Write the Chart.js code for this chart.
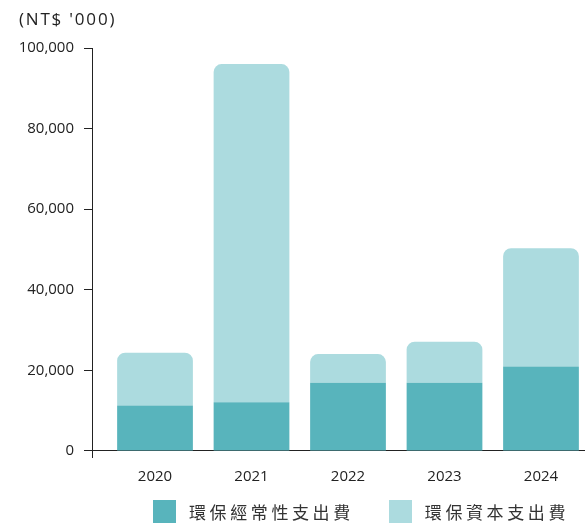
<!DOCTYPE html>
<html>
<head>
<meta charset="utf-8">
<title>環保支出</title>
<script src="https://cdn.jsdelivr.net/npm/chart.js"></script>
<style>
 body { margin: 0; background: #fff; overflow: hidden; }
 #wrap { position: relative; width: 585px; height: 523px; }
 #unit {
    position: absolute; left: 19px; top: 7px;
    font: 17px "Open Sans", sans-serif; letter-spacing: 1.8px;
    line-height: 24px; color: #222;
 }
 #legend {
    position: absolute; left: 153px; top: 500px;
    display: flex; width: 450px; white-space: nowrap;
 }
 .item { display: flex; align-items: center; flex-shrink: 0; }
 .item + .item { margin-left: 35px; }
 .box { width: 23px; height: 23px; margin-right: 13px; flex-shrink: 0; }
 .item span {
    font: 17px "Noto Sans CJK TC", sans-serif; letter-spacing: 3.6px;
    color: #333; line-height: 23px;
 }
</style>
</head>
<body>
<div id="wrap">
  <canvas id="chart" width="585" height="523"></canvas>
  <div id="unit">(NT$ '000)</div>
  <div id="legend"></div>
</div>
<script>
// 年度
const years = ["2020", "2021", "2022", "2023", "2024"];
// 環保經常性支出費 (NT$ '000)
const operating = [11270, 12090, 16900, 16900, 20970];
// 環保資本支出費 (NT$ '000)
const capital = [13110, 83930, 7150, 10210, 29350];
const yTicks = [0, 20000, 40000, 60000, 80000, 100000];

const seriesNames = ["環保經常性支出費", "環保資本支出費"];
const seriesColors = ["#58b4bc", "#acdbdf"];

const datasets = [
    {
        label: seriesNames[0],
        data: operating,
        backgroundColor: seriesColors[0],
        borderRadius: 0
    },
    {
        label: seriesNames[1],
        data: capital,
        backgroundColor: seriesColors[1],
        borderRadius: 8,
        borderSkipped: 'start'
    }
];

const ctx = document.getElementById('chart').getContext('2d');
const chart = new Chart(ctx, {
    type: 'bar',
    data: { labels: years, datasets: datasets },
    options: {
        responsive: false,
        animation: false,
        locale: 'en-US',
        categoryPercentage: 0.785,
        barPercentage: 1,
        layout: { padding: { top: 48, right: 0, bottom: 66, left: 0 } },
        plugins: {
            legend: { display: false },
            tooltip: { enabled: false }
        },
        scales: {
            x: {
                type: 'linear',
                stacked: true,
                offset: false,
                position: { y: 0 },
                min: 2019.347,
                max: 2024.456,
                grid: { display: false, offset: false },
                border: { display: true, color: '#222', width: 1 },
                ticks: {
                    stepSize: 1,
                    includeBounds: false,
                    autoSkip: false,
                    maxRotation: 0,
                    padding: 9,
                    color: '#222',
                    font: { family: 'Open Sans', size: 15 },
                    callback: v => String(v)
                }
            },
            y: {
                stacked: true,
                min: -1500,
                max: yTicks[yTicks.length - 1],
                afterFit: s => { s.width = 92; },
                afterBuildTicks: s => { s.ticks = yTicks.map(v => ({ value: v })); },
                grid: {
                    drawOnChartArea: false,
                    drawTicks: true,
                    tickLength: 8,
                    color: '#222'
                },
                border: { display: true, color: '#222', width: 1 },
                ticks: {
                    stepSize: 20000,
                    includeBounds: false,
                    padding: 10,
                    color: '#222',
                    font: { family: 'Open Sans', size: 15 }
                }
            }
        }
    }
});

// legend with letter spacing
const legend = document.getElementById('legend');
datasets.forEach(ds => {
    const item = document.createElement('div');
    item.className = 'item';
    item.innerHTML = `<div class="box" style="background:${ds.backgroundColor}"></div><span>${ds.label}</span>`;
    legend.appendChild(item);
});
</script>
</body>
</html>
